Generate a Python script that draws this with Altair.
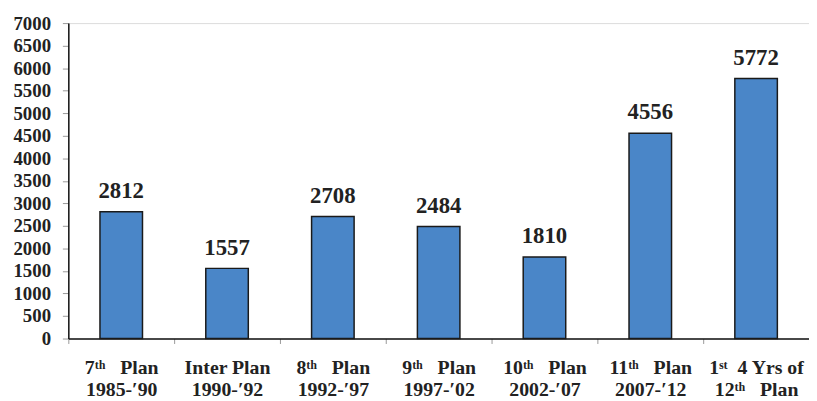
import altair as alt
import pandas as pd

SP = "\u00a0\u00a0\u00a0"
plans = ["7ᵗʰ" + SP + "Plan|1985-′90", "Inter Plan|1990-′92", "8ᵗʰ" + SP + "Plan|1992-′97",
         "9ᵗʰ" + SP + "Plan|1997-′02", "10ᵗʰ" + SP + "Plan|2002-′07",
         "11ᵗʰ" + SP + "Plan|2007-′12",
         "1ˢᵗ\u00a0\u00a04 Yrs of|12ᵗʰ" + SP + "Plan"]
values = [2812, 1557, 2708, 2484, 1810, 4556, 5772]
y_ticks = list(range(0, 7001, 500))

df = pd.DataFrame({"plan": plans, "value": values})
FONT = "Liberation Serif"

x = alt.X("plan:N", sort=plans, title=None,
          scale=alt.Scale(paddingInner=0, paddingOuter=0),
          axis=alt.Axis(labelExpr="split(datum.label, '|')", labelAngle=0,
                        labelFont=FONT, labelFontSize=20, labelFontWeight="bold",
                        labelColor="#222", labelLineHeight=23, labelPadding=14,
                        tickBand="extent", tickColor="#999", tickSize=5,
                        domainColor="#111", domainWidth=1.5, labelBaseline="top"))
y = alt.Y("value:Q", title=None,
          scale=alt.Scale(domain=[0, 7000], nice=False),
          axis=alt.Axis(values=y_ticks, format="d", labelOverlap=False,
                        tickCount=15,
                        labelFont=FONT, labelFontSize=19, labelFontWeight="bold",
                        labelColor="#222", tickColor="#999", tickSize=6,
                        labelPadding=12, domainColor="#111", domainWidth=1.5,
                        grid=False))

base = alt.Chart(df).encode(x=x, y=y)
bars = base.mark_bar(size=43, color="#4A86C8", stroke="#1a1a1a", strokeWidth=1.5)
text = base.mark_text(font=FONT, fontSize=23, fontWeight="bold",
                      color="#222", baseline="alphabetic", dy=-14).encode(text="value:Q")

chart = (bars + text).properties(
    width=749, height=319,
    autosize=alt.AutoSizeParams(type="none"),
    padding={"left": 61, "top": 13, "right": 0, "bottom": 70},
).configure_view(stroke=None).configure(background="white")

chart.save("out.html", embed_options={"renderer": "svg", "actions": False})
